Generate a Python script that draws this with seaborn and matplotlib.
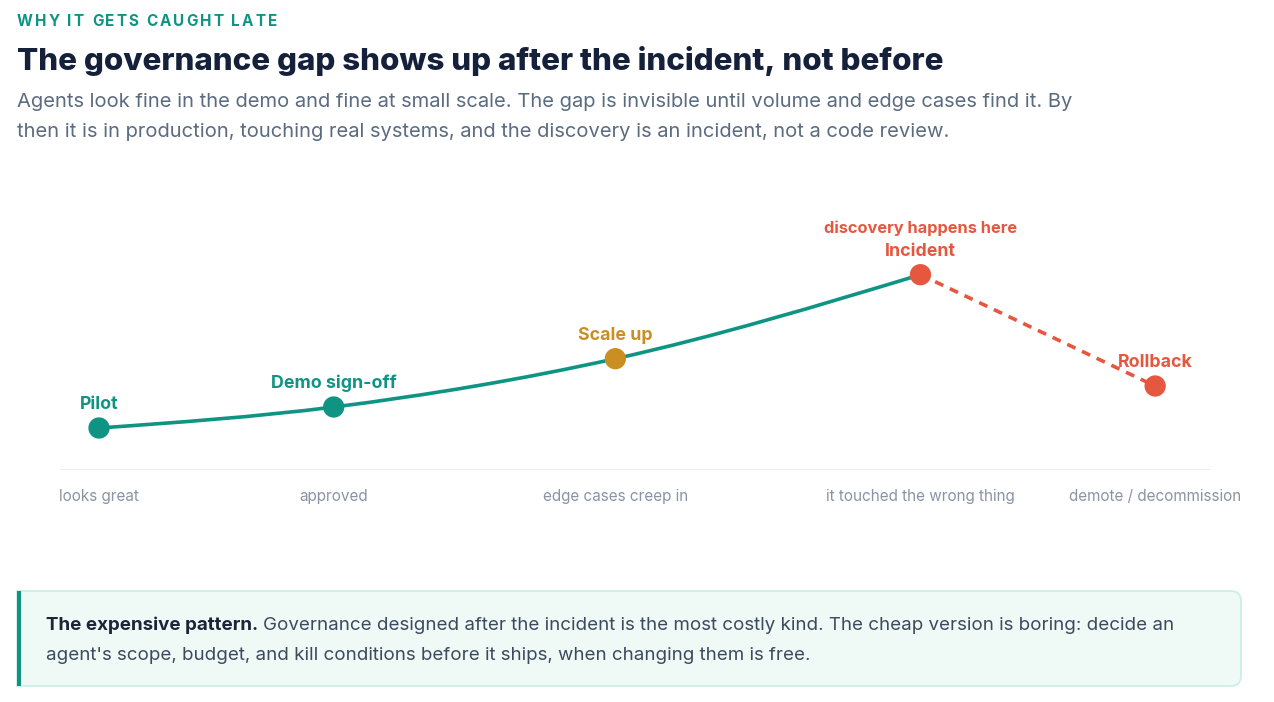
import numpy as np
import pandas as pd
import seaborn as sb
from matplotlib import pyplot as plt
from matplotlib.path import Path
from matplotlib.patches import PathPatch, Rectangle


# chart data: where each stage sits on the rollout timeline and how risky it is
stages = ['Pilot', 'Demo sign-off', 'Scale up', 'Incident', 'Rollback']
stage_notes = ['looks great', 'approved', 'edge cases creep in', 'it touched the wrong thing', 'demote / decommission']
stage_x = [0, 1, 2.2, 3.5, 4.5]
risk = [20, 30, 53, 93, 40]
incident_note = 'discovery happens here'

eyebrow = 'WHY IT GETS CAUGHT LATE'
title = 'The governance gap shows up after the incident, not before'
subtitle = ['Agents look fine in the demo and fine at small scale. The gap is invisible until volume and edge cases find it. By',
            'then it is in production, touching real systems, and the discovery is an incident, not a code review.']
callout_bold = 'The expensive pattern.'
callout_text = ['Governance designed after the incident is the most costly kind. The cheap version is boring: decide an',
                "agent's scope, budget, and kill conditions before it ships, when changing them is free."]

TEAL = '#0f9484'
AMBER = '#c98f22'
RED = '#e5583f'
NAVY = '#15213b'
SLATE = '#5b6b80'
GREY = '#8a94a6'
stage_colors = {'Pilot': TEAL, 'Demo sign-off': TEAL, 'Scale up': AMBER, 'Incident': RED, 'Rollback': RED}

W, H = 1274, 702


def fx(x):
    return x / W


def fy(y):
    return 1 - y / H


#monotone cubic (like d3 curveMonotoneX) -> bezier path through the points
def monotone_path(xs, ys):
    xs = np.asarray(xs, float)
    ys = np.asarray(ys, float)
    n = len(xs)
    h = np.diff(xs)
    s = np.diff(ys) / h
    t = np.zeros(n)
    for i in range(1, n - 1):
        p = (s[i - 1] * h[i] + s[i] * h[i - 1]) / (h[i - 1] + h[i])
        t[i] = (np.sign(s[i - 1]) + np.sign(s[i])) * min(abs(s[i - 1]), abs(s[i]), 0.5 * abs(p))
    t[0] = (3 * s[0] - t[1]) / 2
    t[-1] = (3 * s[-1] - t[-2]) / 2
    verts = [(xs[0], ys[0])]
    codes = [Path.MOVETO]
    for i in range(n - 1):
        dx = h[i] / 3
        verts += [(xs[i] + dx, ys[i] + dx * t[i]), (xs[i + 1] - dx, ys[i + 1] - dx * t[i + 1]), (xs[i + 1], ys[i + 1])]
        codes += [Path.CURVE4] * 3
    return Path(verts, codes)


sb.set_theme(style='white')
plt.rcParams['font.family'] = ['Inter', 'DejaVu Sans']

fig = plt.figure(figsize=(W / 100, H / 100), dpi=100)
fig.patch.set_facecolor('white')
renderer = fig.canvas.get_renderer()

# plot area: baseline at y=470px, x from 60 to 1211px
ax = fig.add_axes([fx(60), fy(470), fx(1211) - fx(60), fy(200) - fy(470)])
ax.set_xlim(-39 / 234.7, (1211 - 99) / 234.7)
ax.set_ylim(0, 270 / 2.1)
ax.set_facecolor('none')
for sp in ax.spines.values():
    sp.set_visible(False)
ax.set_yticks([])
ax.axhline(0, color='#e6eaf0', lw=1.2, zorder=1)

df = pd.DataFrame({'stage': stages, 'x': stage_x, 'risk': risk, 'note': stage_notes})

# solid path up to the incident, dashed fall after it
ax.add_patch(PathPatch(monotone_path(stage_x[:4], risk[:4]), facecolor='none', edgecolor=TEAL, lw=2.6, capstyle='round', zorder=2))
sb.lineplot(ax=ax, data=df.iloc[3:], x='x', y='risk', color=RED, lw=2.6, linestyle=(0, (2.5, 2.0)), zorder=2)
sb.scatterplot(ax=ax, data=df, x='x', y='risk', hue='stage', palette=stage_colors, s=235, linewidth=0, legend=False, zorder=5)

for _, row in df.iterrows():
    ax.annotate(row['stage'], (row['x'], row['risk']), xytext=(0, 19), textcoords='offset pixels',
                ha='center', va='baseline', fontsize=12.8, fontweight='bold', color=stage_colors[row['stage']])
inc = df.iloc[3]
ax.annotate(incident_note, (inc['x'], inc['risk']), xytext=(0, 42), textcoords='offset pixels',
            ha='center', va='baseline', fontsize=11.8, fontweight='bold', color=RED)

ax.set_xticks(stage_x, stage_notes)
ax.tick_params(axis='x', length=0, pad=14, labelsize=11, labelcolor=GREY)
ax.set_xlabel('')
ax.set_ylabel('')

# header texts
x0 = 17
for ch in eyebrow:
    t = fig.text(fx(x0), fy(26), ch, fontsize=11, fontweight='bold', color=TEAL, va='baseline')
    w = 4 if ch == ' ' else t.get_window_extent(renderer).width
    x0 += w + 2.0
fig.text(fx(17), fy(70), title, fontsize=22.6, fontweight='heavy', color=NAVY, va='baseline')
fig.text(fx(17), fy(107), subtitle[0], fontsize=14.5, color=SLATE, va='baseline')
fig.text(fx(17), fy(137), subtitle[1], fontsize=14.5, color=SLATE, va='baseline')

# callout box, square on the left (teal bar), rounded on the right
L, R, T, B, r = 17, 1241, 591, 686, 10
pts = [(L, T), (R - r, T), (R, T), (R, T + r), (R, B - r), (R, B), (R - r, B), (L, B), (L, T)]
codes = [Path.MOVETO, Path.LINETO, Path.CURVE3, Path.CURVE3, Path.LINETO, Path.CURVE3, Path.CURVE3, Path.LINETO, Path.CLOSEPOLY]
box = Path([(fx(px), fy(py)) for px, py in pts], codes)
fig.patches.append(PathPatch(box, transform=fig.transFigure, facecolor='#effaf7', edgecolor='#c9eee5', lw=1.2))
fig.patches.append(Rectangle((fx(L), fy(B)), fx(4), fy(T) - fy(B), transform=fig.transFigure, facecolor=TEAL, edgecolor='none'))

tb = fig.text(fx(46), fy(630), callout_bold, fontsize=13.5, fontweight='bold', color='#1b2538', va='baseline')
bw = tb.get_window_extent(renderer).width
fig.text(fx(46 + bw + 5), fy(630), callout_text[0], fontsize=13.5, color='#3c4a5e', va='baseline')
fig.text(fx(46), fy(660), callout_text[1], fontsize=13.5, color='#3c4a5e', va='baseline')

fig.savefig('out.png', dpi=100)
